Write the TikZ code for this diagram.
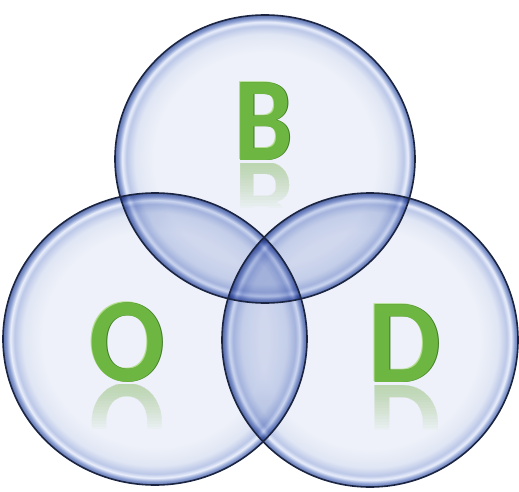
\documentclass[tikz,border=0pt]{standalone}
\usepackage{fontspec}
\setmainfont{Carlito}
\usepackage{graphicx}

\definecolor{bubC}{HTML}{EEF1F9}
\definecolor{bubM}{HTML}{E0E6F4}
\definecolor{bubL}{HTML}{BCC8E8}
\definecolor{bubH}{HTML}{EAEFFB}
\definecolor{bubR}{HTML}{8FA2D4}
\definecolor{bubE}{HTML}{5C72AE}
\definecolor{tintTwo}{HTML}{F0F3FA}
\definecolor{tintThree}{HTML}{E4E9F6}
\definecolor{rimline}{HTML}{1B2440}
\definecolor{lettergreen}{HTML}{6DB642}
\definecolor{letterdark}{HTML}{3E7A22}
\definecolor{letterlight}{HTML}{B2DE8C}
\definecolor{reflgreen}{HTML}{8CC064}

\pgfdeclareradialshading{bubble}{\pgfpoint{0bp}{0bp}}{%
 color(0bp)=(bubC);
 color(18.5bp)=(bubC);
 color(21.7bp)=(bubM);
 color(23.1bp)=(bubL);
 color(23.8bp)=(bubH);
 color(24.4bp)=(bubR);
 color(25bp)=(bubE);
 color(50bp)=(bubE)}

\tikzset{
  rim/.style={draw=rimline, line width=1.6pt},
  letterbase/.style={inner sep=0pt, anchor=base, font=\fontsize{120}{120}\selectfont\bfseries},
  lettershade/.style={letterbase, text=letterdark},
  letterlit/.style={letterbase, text=letterlight},
  letterface/.style={letterbase, text=lettergreen},
  reflect/.style={letterbase, text=reflgreen, opacity=0.036},
}

\def\pT{(265,332) ellipse [x radius=150, y radius=144]}
\def\pL{(155,152) ellipse [x radius=152, y radius=146]}
\def\pR{(370,151) ellipse [x radius=148, y radius=147]}

% #1 name, #2 x, #3 baseline y, #4 letter, #5 xscale
\newcommand\bubbleletter[5]{%
  \foreach \i in {1,...,16}{%
    \begin{scope}
      \clip (#2-50,#3-3) rectangle (#2+50,#3-3-2.8*\i);
      \node[reflect] (#1r\i) at (#2,#3-3) {\scalebox{#5}[-1]{#4}};
    \end{scope}
  }%
  \node[letterlit] (#1l) at (#2-0.8,#3+0.8) {\scalebox{#5}[1]{#4}};
  \node[lettershade] (#1s) at (#2+0.9,#3-0.9) {\scalebox{#5}[1]{#4}};
  \node[letterface] (#1) at (#2,#3) {\scalebox{#5}[1]{#4}};
}

\begin{document}
\begin{tikzpicture}[x=1pt,y=1pt]
\useasboundingbox (0,0) rectangle (519,491);

\begin{scope}[blend mode=multiply]
  \shade[shading=bubble] \pT;
  \shade[shading=bubble] \pL;
  \shade[shading=bubble] \pR;
  \begin{scope}
    \clip \pT; \clip \pL;
    \fill[tintTwo, even odd rule] \pR (0,0) rectangle (519,491);
  \end{scope}
  \begin{scope}
    \clip \pT; \clip \pR;
    \fill[tintTwo, even odd rule] \pL (0,0) rectangle (519,491);
  \end{scope}
  \begin{scope}
    \clip \pL; \clip \pR;
    \fill[tintTwo, even odd rule] \pT (0,0) rectangle (519,491);
  \end{scope}
  \begin{scope}
    \clip \pT; \clip \pL;
    \fill[tintThree] \pR;
  \end{scope}
\end{scope}

\draw[rim] \pT;
\draw[rim] \pL;
\draw[rim] \pR;

\bubbleletter{B}{264}{331}{B}{0.87}
\bubbleletter{O}{127}{110}{O}{0.93}
\bubbleletter{D}{405}{109}{D}{0.96}
\end{tikzpicture}
\end{document}
